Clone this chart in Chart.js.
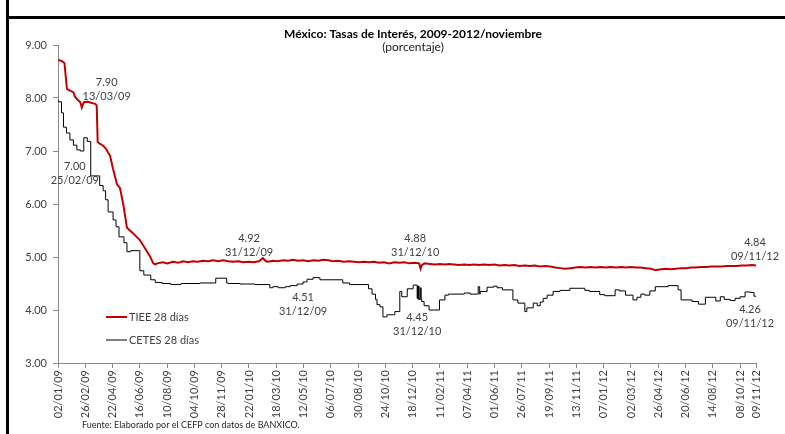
<!DOCTYPE html>
<html><head><meta charset="utf-8">
<script src="https://cdn.jsdelivr.net/npm/chart.js@4"></script>
<style>
html,body{margin:0;padding:0;background:#fff;}
#wrap{position:relative;width:785px;height:434px;overflow:hidden;}
#c{position:absolute;left:0;top:0;}
#frameL{position:absolute;left:6px;top:0;width:3px;height:434px;background:#000;}
#frameT{position:absolute;left:6px;top:16px;width:779px;height:3px;background:#000;}
</style></head>
<body>
<div id="wrap"><canvas id="c" width="785" height="434"></canvas><div id="frameL"></div><div id="frameT"></div></div>
<script>
// ---- Datos ----
const serieTIEE = 'TIEE 28 días';
const serieCETES = 'CETES 28 días';

const tieeFechas = [
'2009-01-02','2009-01-09','2009-01-15','2009-01-20','2009-01-26','2009-02-02','2009-02-05','2009-02-11','2009-02-16','2009-02-19',
'2009-02-23','2009-03-03','2009-03-13','2009-03-18','2009-03-21','2009-03-23','2009-03-27','2009-04-03','2009-04-08','2009-04-13',
'2009-04-17','2009-04-23','2009-05-01','2009-05-07','2009-05-13','2009-05-17','2009-05-21','2009-06-02','2009-06-16','2009-06-26',
'2009-07-06','2009-07-13','2009-07-17','2009-07-21',
'2009-08-01','2009-08-11','2009-08-21','2009-09-01','2009-09-11','2009-09-21','2009-10-01','2009-10-11','2009-10-21',
'2009-11-01','2009-11-11','2009-11-21','2009-12-01','2009-12-11','2009-12-21','2009-12-31',
'2010-01-11','2010-01-21','2010-02-01','2010-02-11','2010-02-19','2010-02-25','2010-03-01','2010-03-11','2010-03-21',
'2010-04-01','2010-04-11','2010-04-21','2010-05-01','2010-05-11','2010-05-21','2010-06-01','2010-06-11','2010-06-21',
'2010-07-01','2010-07-11','2010-07-21','2010-08-01','2010-08-11','2010-08-21','2010-09-01','2010-09-11','2010-09-21',
'2010-10-01','2010-10-11','2010-10-21','2010-11-01','2010-11-11','2010-11-21','2010-12-01','2010-12-11','2010-12-21','2010-12-31',
'2011-01-03','2011-01-05','2011-01-11','2011-01-21','2011-02-01','2011-02-11','2011-02-21','2011-03-01','2011-03-11','2011-03-21',
'2011-04-01','2011-04-11','2011-04-21','2011-05-01','2011-05-11','2011-05-21','2011-06-01','2011-06-11','2011-06-21',
'2011-07-01','2011-07-11','2011-07-21','2011-08-01','2011-08-11','2011-08-21','2011-09-01','2011-09-11','2011-09-21',
'2011-10-01','2011-10-11','2011-10-21','2011-11-01','2011-11-11','2011-11-21','2011-12-01','2011-12-11','2011-12-21',
'2012-01-01','2012-01-11','2012-01-21','2012-02-01','2012-02-11','2012-02-21','2012-03-01','2012-03-11','2012-03-21',
'2012-04-01','2012-04-11','2012-04-20','2012-05-01','2012-05-11','2012-05-21','2012-06-01','2012-06-11','2012-06-21',
'2012-07-01','2012-07-11','2012-07-21','2012-08-01','2012-08-11','2012-08-21','2012-09-01','2012-09-11','2012-09-21',
'2012-10-01','2012-10-11','2012-10-21','2012-11-01','2012-11-09'
];
const tieeValores = [
8.72,8.70,8.66,8.17,8.14,8.11,8.03,7.96,7.92,7.82,
7.92,7.93,7.90,7.89,7.86,7.17,7.14,7.10,7.05,6.97,
6.91,6.66,6.37,6.30,6.02,5.79,5.55,5.45,5.32,5.17,
5.02,4.88,4.86,4.88,
4.90,4.88,4.91,4.89,4.92,4.90,4.92,4.91,4.93,
4.92,4.94,4.92,4.94,4.92,4.91,4.92,
4.90,4.91,4.90,4.92,4.98,4.92,4.91,4.93,4.92,
4.94,4.93,4.95,4.93,4.94,4.92,4.94,4.93,4.95,
4.94,4.92,4.93,4.91,4.92,4.91,4.90,4.91,4.90,
4.91,4.89,4.90,4.88,4.90,4.89,4.90,4.88,4.89,4.88,
4.78,4.84,4.88,4.87,4.86,4.87,4.86,4.87,4.86,4.85,
4.86,4.85,4.86,4.85,4.86,4.85,4.86,4.84,4.85,
4.84,4.85,4.83,4.84,4.83,4.84,4.82,4.83,4.82,
4.80,4.79,4.78,4.79,4.80,4.81,4.80,4.81,4.80,
4.81,4.80,4.81,4.80,4.81,4.80,4.81,4.80,4.80,
4.79,4.78,4.75,4.77,4.78,4.77,4.78,4.79,4.79,
4.80,4.80,4.81,4.81,4.82,4.82,4.82,4.83,4.83,
4.83,4.84,4.84,4.85,4.84
];

const cetesFechas = [
'2009-01-02','2009-01-09','2009-01-13','2009-01-19','2009-01-26','2009-02-02','2009-02-09','2009-02-16','2009-02-23','2009-03-02',
'2009-03-09','2009-03-27','2009-04-03','2009-04-08','2009-04-13','2009-04-23','2009-04-29','2009-05-05','2009-05-15','2009-05-21',
'2009-05-29','2009-06-16','2009-06-24','2009-07-08','2009-07-17','2009-07-31','2009-08-17','2009-09-07','2009-10-15','2009-11-16',
'2009-12-08','2009-12-11','2010-01-04','2010-02-03','2010-03-05','2010-03-11','2010-03-22','2010-04-05','2010-04-15','2010-04-29',
'2010-05-11','2010-05-19','2010-05-31','2010-06-14','2010-07-30','2010-08-13','2010-09-20','2010-09-27','2010-10-04','2010-10-07',
'2010-10-13','2010-10-19','2010-10-27','2010-11-12','2010-11-22','2010-11-26','2010-12-07','2010-12-19','2010-12-27','2010-12-28',
'2010-12-29','2010-12-30','2010-12-31','2011-01-03','2011-01-04','2011-01-05','2011-01-10','2011-01-20','2011-02-10','2011-02-21',
'2011-02-28','2011-04-01','2011-04-13','2011-04-29','2011-05-02','2011-05-03','2011-05-17','2011-05-30','2011-06-06','2011-06-17',
'2011-07-08','2011-07-18','2011-08-01','2011-08-05','2011-08-18','2011-08-26','2011-09-01','2011-09-07','2011-09-15','2011-09-27',
'2011-10-11','2011-10-31','2011-11-30','2011-12-09','2011-12-30','2012-01-09','2012-01-30','2012-02-08','2012-02-20','2012-03-06',
'2012-03-14','2012-03-22','2012-03-30','2012-04-09','2012-04-20','2012-05-16','2012-06-05','2012-06-11','2012-07-03','2012-07-16',
'2012-07-30','2012-08-20','2012-08-29','2012-09-06','2012-09-18','2012-09-28','2012-10-08','2012-10-18','2012-10-29','2012-11-05',
'2012-11-09'
];
const cetesValores = [
7.97,7.93,7.72,7.45,7.34,7.21,7.11,7.02,7.00,7.25,
7.18,6.53,6.35,6.25,6.08,5.85,5.70,5.57,5.38,5.27,
5.10,5.12,4.74,4.66,4.57,4.52,4.50,4.48,4.50,4.51,
4.60,4.51,4.50,4.49,4.48,4.42,4.44,4.42,4.44,4.46,
4.49,4.53,4.58,4.61,4.57,4.51,4.48,4.40,4.30,4.20,
4.10,4.06,3.87,3.91,3.97,4.35,4.25,4.40,4.47,4.22,
4.45,4.20,4.45,4.20,4.42,4.22,4.16,4.08,4.00,4.19,
4.28,4.30,4.32,4.30,4.44,4.30,4.35,4.43,4.45,4.42,
4.38,4.19,4.13,3.97,4.04,4.13,4.08,4.15,4.22,4.28,
4.35,4.37,4.41,4.37,4.35,4.29,4.27,4.38,4.36,4.28,
4.19,4.24,4.30,4.28,4.36,4.44,4.46,4.38,4.19,4.16,
4.11,4.24,4.17,4.25,4.20,4.18,4.22,4.25,4.34,4.33,
4.26
];

const etiquetasX = ['02/01/09','26/02/09','22/04/09','16/06/09','10/08/09','04/10/09','28/11/09','22/01/10','18/03/10',
'12/05/10','06/07/10','30/08/10','24/10/10','18/12/10','11/02/11','07/04/11','01/06/11','26/07/11','19/09/11',
'13/11/11','07/01/12','02/03/12','26/04/12','20/06/12','14/08/12','08/10/12','09/11/12'];
const etiquetasY = [3,4,5,6,7,8,9];

// Anotaciones: serie, fecha, valor
const notaSerie = [0,1,0,1,0,1,0,1];
const notaFecha = ['13/03/09','25/02/09','31/12/09','31/12/09','31/12/10','31/12/10','09/11/12','09/11/12'];
const notaValor = [7.90,7.00,4.92,4.51,4.88,4.45,4.84,4.26];

const titulo = 'México: Tasas de Interés, 2009-2012/noviembre';
const subtitulo = '(porcentaje)';
const fuente = 'Fuente: Elaborado por el CEFP con datos de BANXICO.';

// ---- Utilidades ----
const base = Date.UTC(2009,0,2);
function isoDia(s){const p=s.split('-').map(Number);return Math.round((Date.UTC(p[0],p[1]-1,p[2])-base)/864e5);}
function dmyDia(s){const p=s.split('/').map(Number);return Math.round((Date.UTC(2000+p[2],p[1]-1,p[0])-base)/864e5);}
const ticksX = etiquetasX.map(dmyDia);

const FONT = 'Lato, "Open Sans", "Liberation Sans", sans-serif';
const TXT = '#404040';
const AXIS = '#898989';

// offsets de estilo de las anotaciones (px)
const notaDX = [14,-10,11,65,-4,-2,-1,-6];
const notaDY = [-21,15,-23,14,-25,31,-23.5,13];

const plugin = {
  id:'extras',
  afterDraw(chart){
    const ctx = chart.ctx, ca = chart.chartArea;
    const xs = chart.scales.x, ys = chart.scales.y;
    ctx.save();
    // título
    ctx.fillStyle = '#000';
    ctx.textAlign = 'center'; ctx.textBaseline = 'middle';
    const cx = (ca.left+ca.right)/2 + 6;
    ctx.font = 'bold 12px ' + FONT;
    ctx.fillText(titulo, cx, 34);
    ctx.font = '12px ' + FONT;
    ctx.fillStyle = '#1a1a1a';
    ctx.fillText(subtitulo, cx, 47);
    // anotaciones
    ctx.font = '11px ' + FONT;
    ctx.fillStyle = TXT;
    for (let i=0;i<notaFecha.length;i++){
      const px = xs.getPixelForValue(dmyDia(notaFecha[i]));
      const py = ys.getPixelForValue(notaValor[i]);
      ctx.fillText(notaValor[i].toFixed(2), px+notaDX[i], py+notaDY[i]);
      ctx.fillText(notaFecha[i], px+notaDX[i], py+notaDY[i]+14);
    }
    // leyenda
    ctx.textAlign = 'left';
    const ds = chart.data.datasets;
    const ly = [ca.bottom-46, ca.bottom-23];
    ds.forEach((d,i)=>{
      ctx.strokeStyle = d.borderColor; ctx.lineWidth = d.borderWidth;
      ctx.beginPath(); ctx.moveTo(ca.left+48, ly[i]); ctx.lineTo(ca.left+69, ly[i]); ctx.stroke();
      ctx.fillStyle = TXT; ctx.font = '11px ' + FONT;
      ctx.fillText(d.label, ca.left+71, ly[i]+0.5);
    });
    // fuente
    ctx.font = '9px ' + FONT;
    ctx.fillStyle = '#262626';
    ctx.fillText(fuente, 82, 425);
    ctx.restore();
  }
};

new Chart(document.getElementById('c'), {
  type:'line',
  data:{datasets:[
    {label:serieTIEE, data:tieeFechas.map((f,i)=>({x:isoDia(f),y:tieeValores[i]})), borderColor:'#c00000', borderWidth:2, pointRadius:0, tension:0},
    {label:serieCETES, data:cetesFechas.map((f,i)=>({x:isoDia(f),y:cetesValores[i]})), borderColor:'#000000', borderWidth:1, pointRadius:0, stepped:'after'}
  ]},
  options:{
    responsive:false, animation:false, devicePixelRatio:1,
    layout:{padding:{left:0,right:29,top:45,bottom:0}},
    plugins:{legend:{display:false}, title:{display:false}, tooltip:{enabled:false}},
    scales:{
      x:{type:'linear', min:0, max:ticksX[ticksX.length-1],
        afterBuildTicks:s=>{s.ticks = ticksX.map(v=>({value:v}));},
        afterFit:s=>{s.height=71;},
        ticks:{autoSkip:false, minRotation:90, maxRotation:90, padding:2, color:TXT,
          font:{family:FONT,size:11}, callback:(v,i)=>etiquetasX[i]},
        grid:{drawOnChartArea:false, drawTicks:true, tickLength:5, color:AXIS},
        border:{color:AXIS}},
      y:{min:etiquetasY[0], max:etiquetasY[etiquetasY.length-1],
        afterBuildTicks:s=>{s.ticks = etiquetasY.map(v=>({value:v}));},
        afterFit:s=>{s.width=58;},
        ticks:{padding:6, color:TXT, font:{family:FONT,size:11}, callback:v=>Number(v).toFixed(2)},
        grid:{drawOnChartArea:false, drawTicks:true, tickLength:5, color:AXIS},
        border:{color:AXIS}}
    }
  },
  plugins:[plugin]
});
</script>
</body></html>
